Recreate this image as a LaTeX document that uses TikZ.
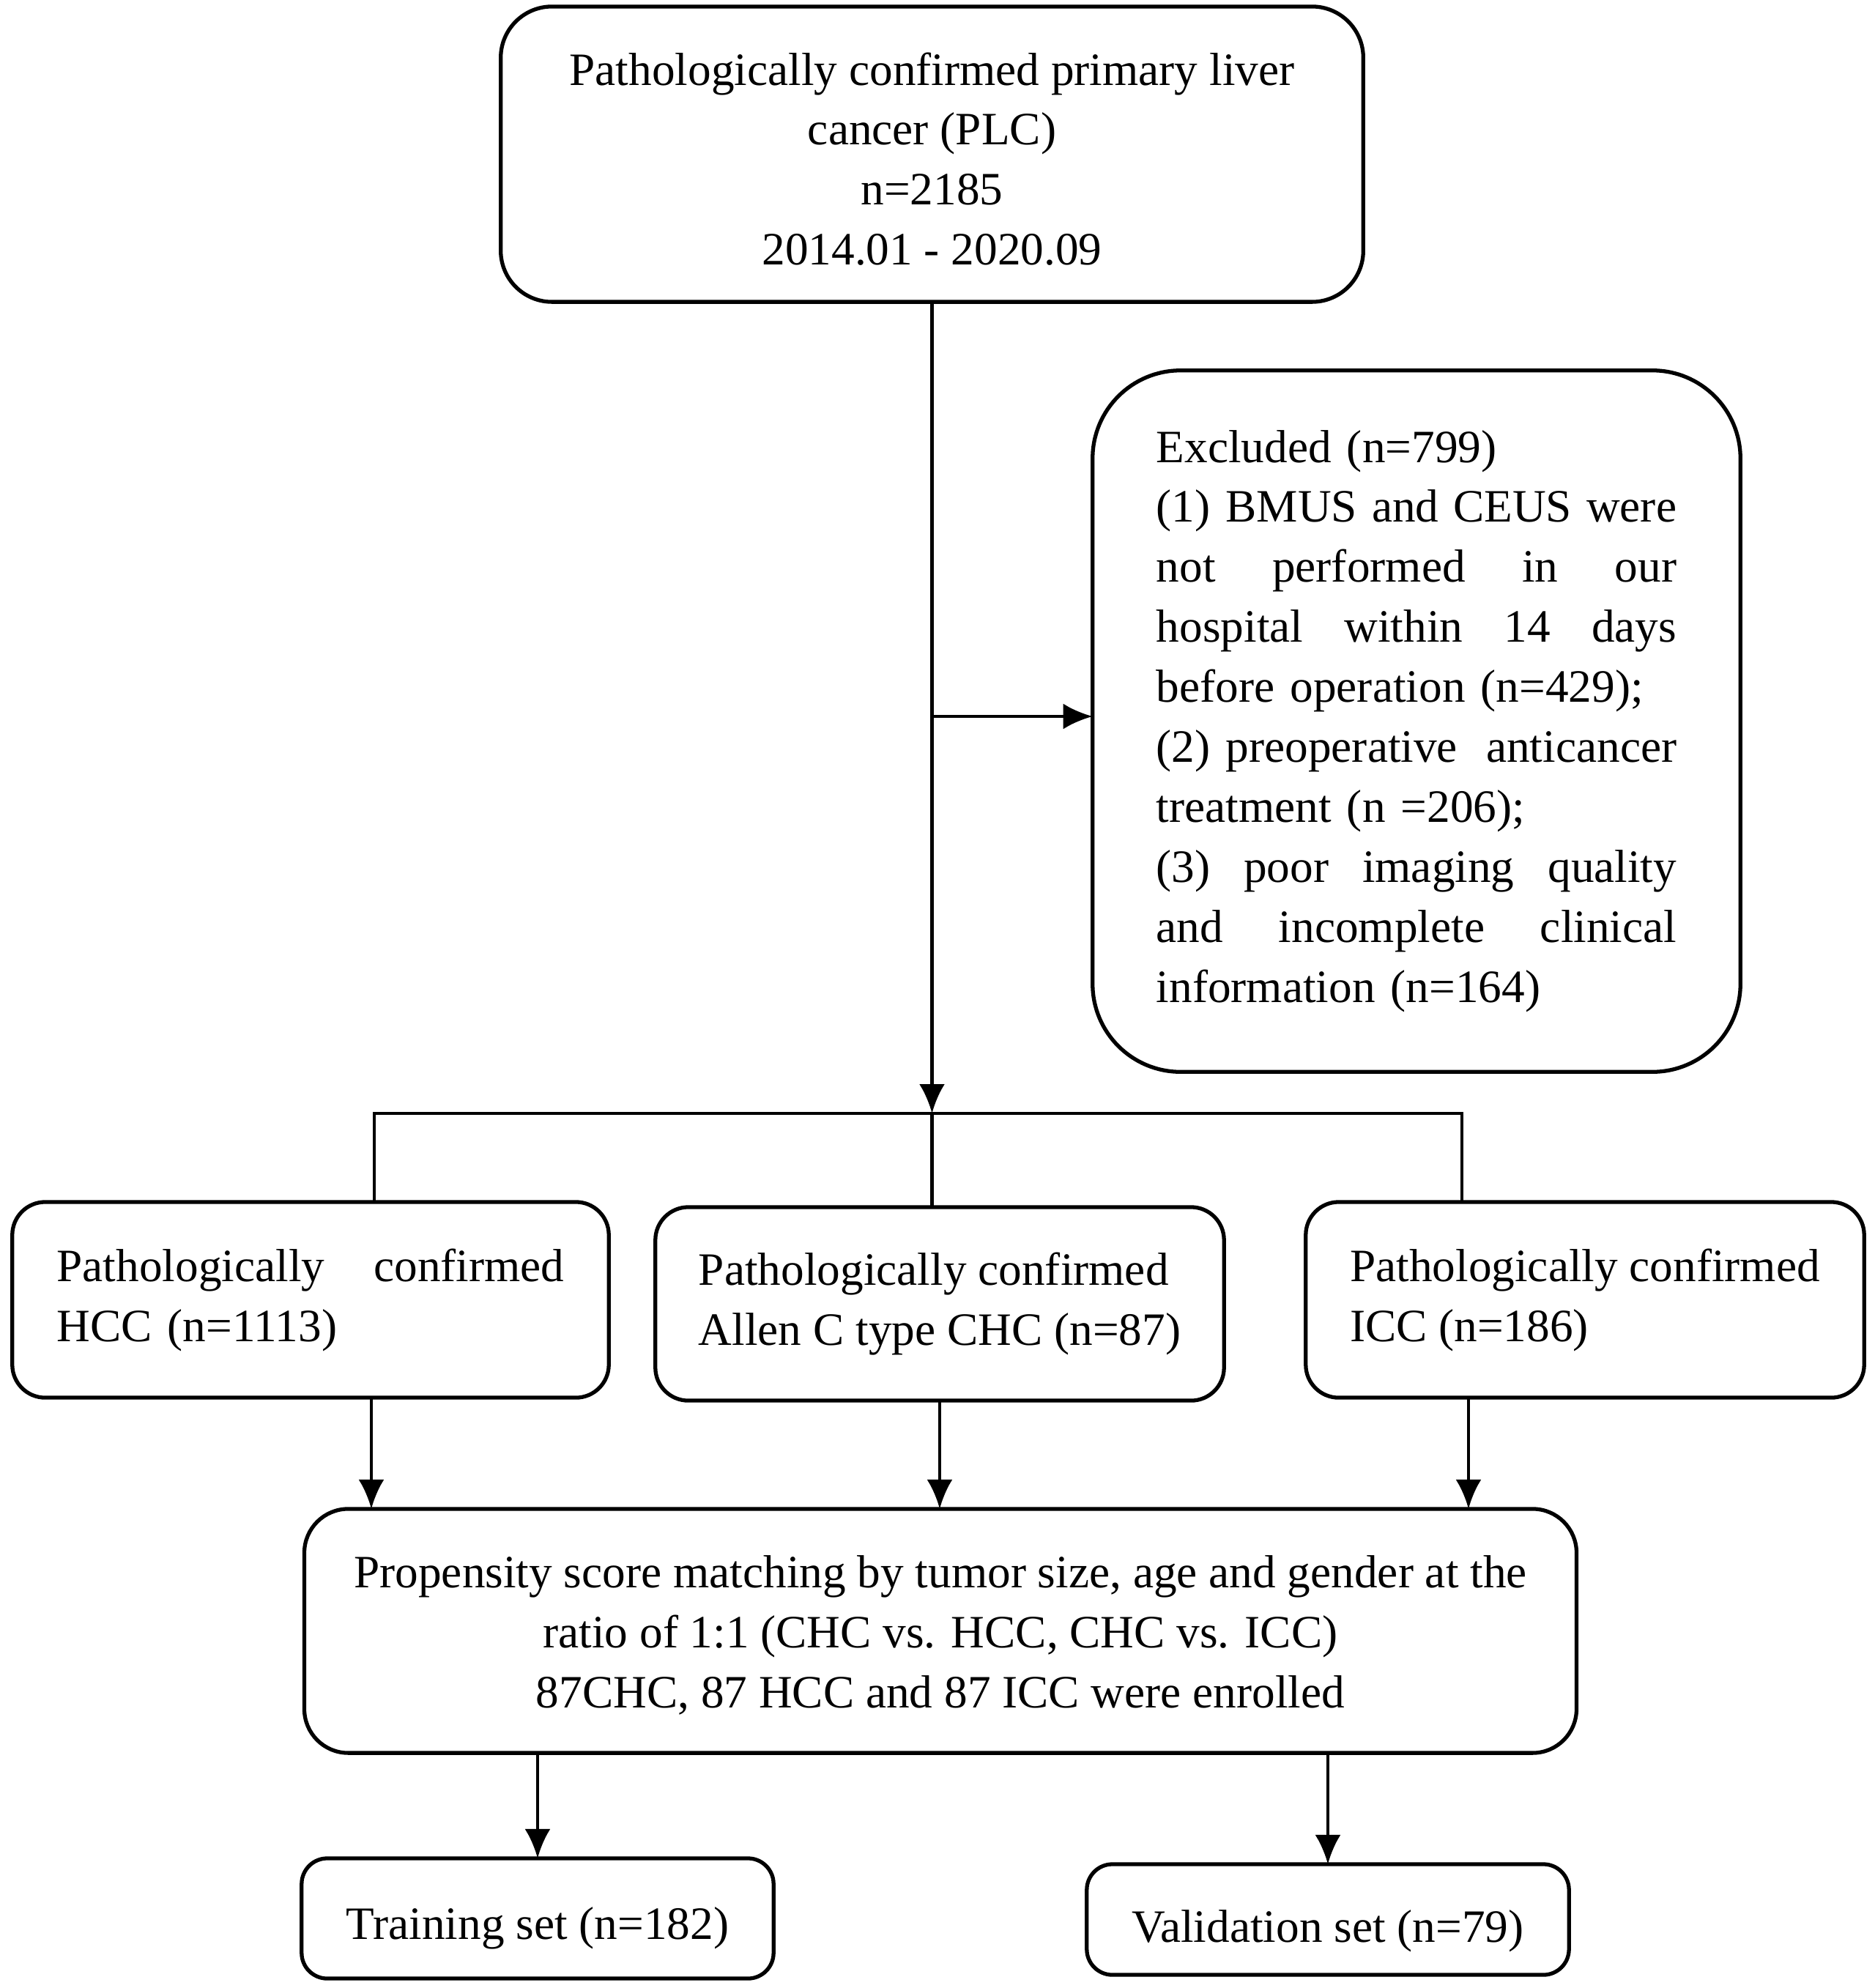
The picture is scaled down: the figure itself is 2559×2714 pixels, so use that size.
\documentclass[tikz,border=0pt]{standalone}
\usepackage{fontspec}
\setmainfont{Liberation Serif}
\usetikzlibrary{arrows.meta}
\newlength\exw
\setlength\exw{202pt}
\newcommand\jline[1]{\leavevmode\hbox to\exw{#1}}
\newcommand\lowtext[2]{\raisebox{-#1}[\height][\depth]{\begin{tabular}{@{}c@{}}#2\end{tabular}}}
\begin{document}
\begin{tikzpicture}[x=0.01cm,y=-0.01cm,
  box/.style={draw, line width=1.5pt, inner sep=0pt, outer sep=0pt, fill=white,
    font=\fontsize{18}{23.3}\selectfont, align=center},
  arr/.style={line width=1.3pt, -{Latex[length=4mm,width=3.5mm]}},
  ln/.style={line width=1.3pt}]
\useasboundingbox (0,0) rectangle (2559,2714);

\node[box, minimum width=11.77cm, minimum height=4.03cm, rounded corners=0.7cm] (top) at (1272.5,210.5)
  {\lowtext{1.2mm}{Pathologically confirmed primary liver\\cancer (PLC)\\n=2185\\2014.01 - 2020.09}};

\node[box, minimum width=8.84cm, minimum height=9.57cm, rounded corners=1.2cm, text width=\exw, align=left] (excl) at (1934,984.5)
  {Excluded (n=799)\\
   \jline{(1) BMUS\hfill and\hfill CEUS\hfill were}\\
   \jline{not\hfill performed\hfill in\hfill our}\\
   \jline{hospital\hfill within\hfill 14\hfill days}\\
   before operation (n=429);\\
   \jline{(2) preoperative\hfill anticancer}\\
   treatment (n =206);\\
   \jline{(3)\hfill poor\hfill imaging\hfill quality}\\
   \jline{and\hfill incomplete\hfill clinical}\\
   information (n=164)};

\node[box, minimum width=8.14cm, minimum height=2.67cm, rounded corners=0.45cm, text width=197pt, align=left] (hcc) at (424,1774.5)
  {\leavevmode\hbox to 197pt{Pathologically\hfill confirmed}\\HCC (n=1113)};
\node[box, minimum width=7.76cm, minimum height=2.64cm, rounded corners=0.45cm, align=left] (chc) at (1283,1780)
  {Pathologically confirmed\\Allen C type CHC (n=87)};
\node[box, minimum width=7.62cm, minimum height=2.67cm, rounded corners=0.45cm, align=left] (icc) at (2164,1774.5)
  {Pathologically confirmed\\ICC (n=186)};

\node[box, minimum width=17.36cm, minimum height=3.33cm, rounded corners=0.6cm] (psm) at (1284,2226.5)
  {\lowtext{0.7mm}{Propensity score matching by tumor size, age and gender at the\\ratio of 1:1 (CHC vs. HCC, CHC vs. ICC)\\87CHC, 87 HCC and 87 ICC were enrolled}};

\node[box, minimum width=6.44cm, minimum height=1.64cm, rounded corners=0.35cm] (train) at (734,2619)
  {\lowtext{1.2mm}{Training set (n=182)}};
\node[box, minimum width=6.58cm, minimum height=1.51cm, rounded corners=0.35cm] (val) at (1813,2620.5)
  {\lowtext{1.5mm}{Validation set (n=79)}};

\coordinate (j) at (1272.5,1520);
\coordinate (br) at (1272.5,978);
\coordinate (bl) at (511,1520);
\coordinate (bR) at (1996,1520);
\coordinate (d1) at (507,0);
\coordinate (d3) at (2005,0);

\draw[arr] (top.south) -- (j);
\draw[arr] (br) -- (br -| excl.west);
\draw[ln] (hcc.north -| bl) -- (bl) -- (bR) -- (icc.north -| bR);
\draw[ln] (j) -- (chc.north -| j);

\draw[arr] (hcc.south -| d1) -- (psm.north -| d1);
\draw[arr] (chc.south) -- (psm.north -| chc.south);
\draw[arr] (icc.south -| d3) -- (psm.north -| d3);

\draw[arr] (psm.south -| train.north) -- (train.north);
\draw[arr] (psm.south -| val.north) -- (val.north);
\end{tikzpicture}
\end{document}
